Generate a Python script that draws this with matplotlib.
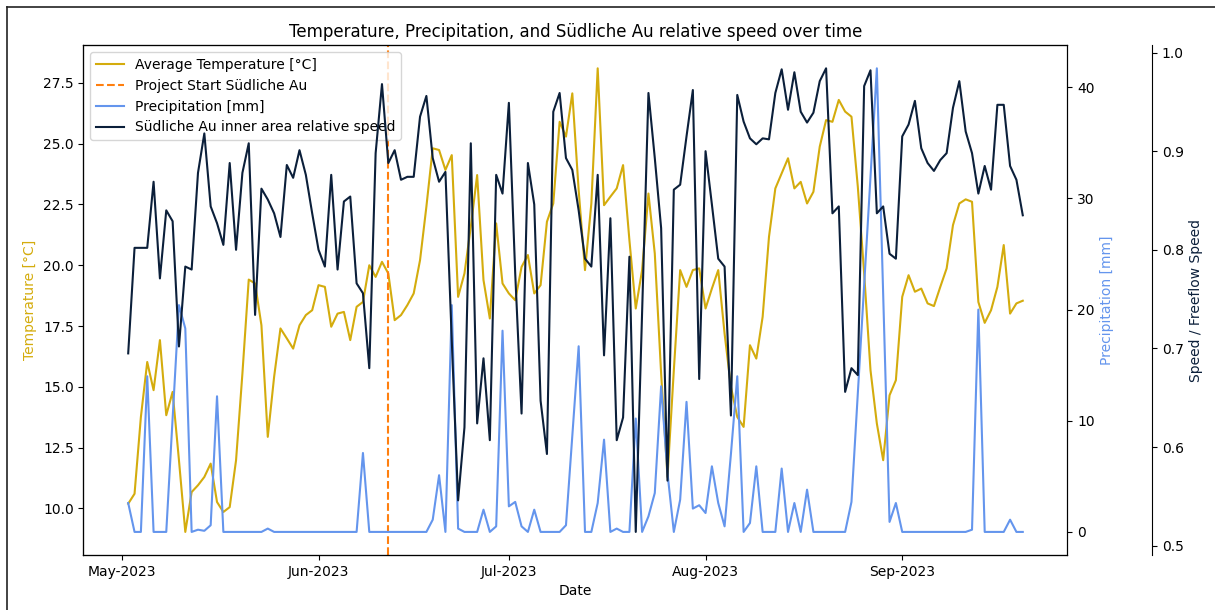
import numpy as np
import pandas as pd
import matplotlib
matplotlib.use("Agg")
import matplotlib.pyplot as plt
import matplotlib.dates as mdates
from matplotlib.lines import Line2D

# --- daily series, 2 May - 20 Sep 2023 ---
dates = pd.date_range("2023-05-02", "2023-09-20", freq="D")
project_start = pd.Timestamp("2023-06-12")

# average temperature [°C]
temperature = [
    # May
    10.19, 10.60, 13.76, 16.02, 14.86, 16.92, 13.83, 14.79, 11.98, 9.03,
    10.67, 10.95, 11.29, 11.84, 10.26, 9.85, 10.05, 11.98, 15.54, 19.41,
    19.25, 17.53, 12.94, 15.41, 17.40, 16.99, 16.57, 17.53, 17.95, 18.15,
    # June
    19.18, 19.11, 17.47, 18.01, 18.08, 16.92, 18.29, 18.49, 20.00, 19.52,
    20.14, 19.66, 17.74, 17.95, 18.36, 18.84, 20.21, 22.41, 24.81, 24.74,
    23.92, 24.53, 18.70, 19.66, 21.58, 23.71, 19.39, 17.81, 21.72, 19.25,
    # July
    18.84, 18.56, 19.93, 20.42, 18.84, 19.18, 21.79, 22.54, 25.90, 25.29,
    27.07, 23.09, 19.80, 22.54, 28.10, 22.47, 22.82, 23.16, 24.12, 21.03,
    18.22, 19.80, 22.95, 20.48, 15.54, 11.29, 15.68, 19.80, 19.11, 19.80,
    19.87,
    # August
    18.22, 19.04, 19.80, 17.19, 15.00, 13.76, 13.35, 16.71, 16.16, 17.88,
    21.17, 23.16, 23.78, 24.40, 23.16, 23.43, 22.54, 23.02, 24.88, 25.97,
    25.90, 26.80, 26.32, 26.11, 23.23, 19.66, 15.68, 13.49, 11.98, 14.65,
    15.27,
    # September
    18.70, 19.59, 18.91, 19.04, 18.43, 18.32, 19.11, 19.87, 21.65, 22.54,
    22.71, 22.61, 18.49, 17.63, 18.15, 19.11, 20.83, 18.01, 18.43, 18.54,
]

# daily precipitation [mm]
precipitation = [
    # May
    2.6, 0, 0, 14.0, 0, 0, 0, 10.2, 20.4, 18.3,
    0, 0.2, 0.1, 0.6, 12.2, 0, 0, 0, 0, 0,
    0, 0, 0.3, 0, 0, 0, 0, 0, 0, 0,
    # June
    0, 0, 0, 0, 0, 0, 0, 7.1, 0, 0,
    0, 0, 0, 0, 0, 0, 0, 0, 1.1, 5.1,
    0, 20.4, 0.3, 0, 0, 0, 2.0, 0, 0.5, 18.1,
    # July
    2.3, 2.7, 0.5, 0, 2.0, 0, 0, 0, 0, 0.6,
    8.6, 16.7, 0, 0, 2.6, 8.3, 0, 0.3, 0, 0,
    10.2, 0, 1.4, 3.5, 13.1, 5.3, 0, 2.9, 11.7, 2.1,
    2.4,
    # August
    1.7, 5.9, 2.6, 0.5, 7.0, 14.0, 0, 0.8, 5.9, 0,
    0, 0, 5.7, 0, 2.6, 0, 3.8, 0, 0, 0,
    0, 0, 0, 2.7, 12.5, 22.2, 31.9, 41.7, 21.3, 0.9,
    2.6,
    # September
    0, 0, 0, 0, 0, 0, 0, 0, 0, 0,
    0, 0.2, 20.0, 0, 0, 0, 0, 1.1, 0, 0,
]

# inner area speed relative to freeflow speed
relative_speed = [
    # May
    0.695, 0.802, 0.802, 0.802, 0.869, 0.771, 0.840, 0.829, 0.702, 0.783,
    0.780, 0.878, 0.918, 0.844, 0.827, 0.805, 0.888, 0.800, 0.878, 0.908,
    0.734, 0.862, 0.851, 0.837, 0.813, 0.886, 0.873, 0.901, 0.876, 0.837,
    # June
    0.800, 0.783, 0.876, 0.780, 0.849, 0.854, 0.766, 0.756, 0.680, 0.898,
    0.968, 0.888, 0.901, 0.871, 0.874, 0.874, 0.935, 0.956, 0.893, 0.869,
    0.879, 0.708, 0.546, 0.620, 0.908, 0.624, 0.690, 0.607, 0.876, 0.857,
    # July
    0.949, 0.776, 0.634, 0.888, 0.846, 0.647, 0.593, 0.940, 0.959, 0.893,
    0.881, 0.840, 0.791, 0.783, 0.876, 0.693, 0.832, 0.607, 0.630, 0.793,
    0.514, 0.735, 0.959, 0.893, 0.822, 0.566, 0.861, 0.866, 0.915, 0.962,
    0.669,
    # August
    0.900, 0.846, 0.791, 0.783, 0.632, 0.957, 0.930, 0.913, 0.907, 0.913,
    0.912, 0.959, 0.983, 0.942, 0.980, 0.940, 0.929, 0.939, 0.971, 0.984,
    0.837, 0.844, 0.656, 0.680, 0.673, 0.966, 0.982, 0.837, 0.844, 0.796,
    0.791,
    # September
    0.915, 0.927, 0.951, 0.903, 0.888, 0.880, 0.891, 0.898, 0.944, 0.971,
    0.920, 0.898, 0.857, 0.885, 0.861, 0.947, 0.947, 0.885, 0.871, 0.835,
]

temp_color = "#D4AC0D"
rain_color = "#6495ED"
speed_color = "#0B1F3A"

fig, ax1 = plt.subplots(figsize=(12.15, 6.1), dpi=100)
fig.subplots_adjust(left=0.0687, right=0.8786, bottom=0.090, top=0.926)

l1, = ax1.plot(dates, temperature, color=temp_color, label="Average Temperature [°C]")
l2 = ax1.axvline(project_start, color="#FF7F0E", linestyle="--",
                 label="Project Start Südliche Au")
ax1.set_xlabel("Date")
ax1.set_ylabel("Temperature [°C]", color=temp_color)

ax2 = ax1.twinx()
l3, = ax2.plot(dates, precipitation, color=rain_color, label="Precipitation [mm]")
ax2.set_ylabel("Precipitation [mm]", color=rain_color)

ax3 = ax1.twinx()
ax3.spines["right"].set_position(("axes", 1.086))
l4, = ax3.plot(dates, relative_speed, color=speed_color,
               label="Südliche Au inner area relative speed")
ax3.set_ylabel("Speed / Freeflow Speed", color=speed_color)

ax1.xaxis.set_major_locator(mdates.MonthLocator())
ax1.xaxis.set_major_formatter(mdates.DateFormatter("%b-%Y"))

handles = [l1, l2, l3, l4]
ax1.legend(handles, [h.get_label() for h in handles], loc="upper left")
ax1.set_title("Temperature, Precipitation, and Südliche Au relative speed over time")

# thin frame along the top and left edge
fig.add_artist(Line2D([0.0055, 1.0], [0.989, 0.989], transform=fig.transFigure,
                      color="#222222", linewidth=1.2))
fig.add_artist(Line2D([0.0055, 0.0055], [0.0, 0.989], transform=fig.transFigure,
                      color="#222222", linewidth=1.2))

fig.savefig("out.png", dpi=100)
